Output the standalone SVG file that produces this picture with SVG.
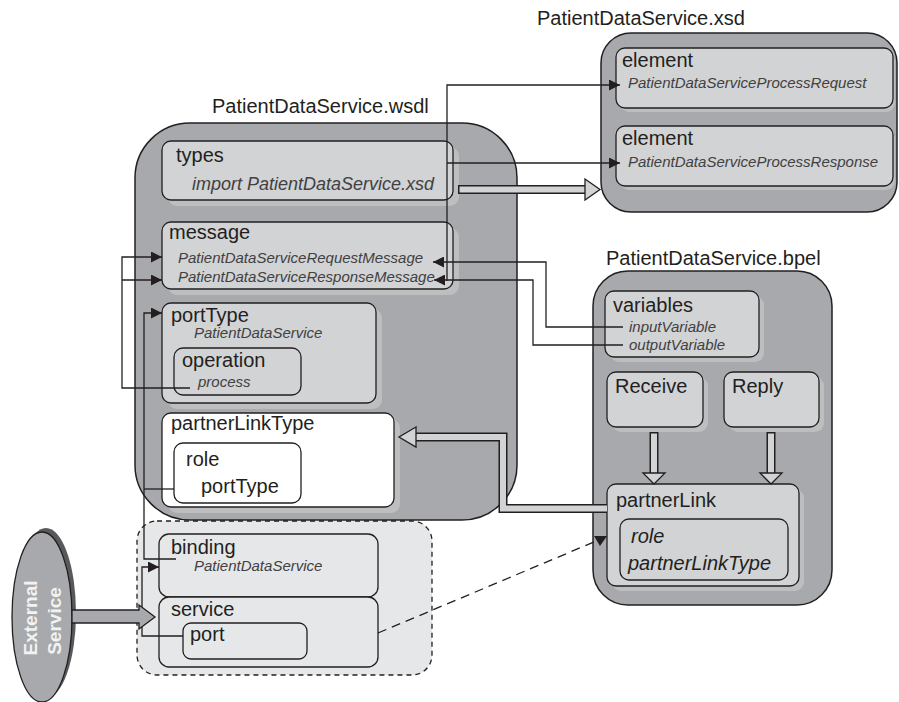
<svg xmlns="http://www.w3.org/2000/svg" width="899" height="702" viewBox="0 0 899 702">
<defs>
<marker id="ah" markerUnits="userSpaceOnUse" markerWidth="11" markerHeight="11" refX="10" refY="5" orient="auto" viewBox="0 0 10 10">
<path d="M0,0 L10,5 L0,10 z" fill="#231f20"/>
</marker>
</defs>
<style>
.cont{fill:#a7a9ac;stroke:#231f20;stroke-width:1.5}
.box{fill:#d1d3d4;stroke:#231f20;stroke-width:1.3}
.wbox{fill:#ffffff;stroke:#231f20;stroke-width:1.3}
.lbox{fill:#e6e7e8;stroke:#231f20;stroke-width:1.3}
.sh{fill:#bcbec0}
.t{font-family:"Liberation Sans",Arial,sans-serif;font-size:20px;fill:#231f20}
.i{font-style:italic;font-size:15px;fill:#414042}
.ln{fill:none;stroke:#231f20;stroke-width:1.3}
.hol-o{fill:none;stroke:#231f20;stroke-width:9;stroke-linejoin:miter}
.hol-i{fill:none;stroke:#d1d3d4;stroke-width:6;stroke-linejoin:miter}
.hh{fill:#d1d3d4;stroke:#231f20;stroke-width:1.3;stroke-linejoin:miter}
</style>

<rect width="899" height="702" fill="#ffffff"/>

<g id="xsd">
<text class="t" x="537" y="25">PatientDataService.xsd</text>
<rect class="cont" x="601" y="33" width="296" height="179" rx="30"/>
<g id="xsd-element1">
<rect class="sh" x="620" y="52" width="275" height="60" rx="9"/>
<rect class="box" x="616" y="48" width="277" height="60" rx="9"/>
<text class="t" x="622" y="67">element</text>
<text class="t i" x="628" y="88">PatientDataServiceProcessRequest</text>
</g>
<g id="xsd-element2">
<rect class="sh" x="620" y="130" width="275" height="60" rx="9"/>
<rect class="box" x="616" y="126" width="277" height="60" rx="9"/>
<text class="t" x="622" y="145">element</text>
<text class="t i" x="628" y="167">PatientDataServiceProcessResponse</text>
</g>
</g>

<g id="wsdl">
<text class="t" x="212" y="113">PatientDataService.wsdl</text>
<rect class="cont" x="135" y="123" width="382" height="397" rx="55"/>
<g id="types">
<rect class="sh" x="168" y="147" width="291" height="59" rx="9"/>
<rect class="box" x="162" y="141" width="291" height="59" rx="9"/>
<text class="t" x="176" y="162">types</text>
<text class="t i" x="192" y="190" style="font-size:18px">import PatientDataService.xsd</text>
</g>
<g id="message">
<rect class="sh" x="168" y="228" width="291" height="67" rx="9"/>
<rect class="box" x="162" y="222" width="291" height="67" rx="9"/>
<text class="t" x="169" y="239">message</text>
<text class="t i" x="178" y="263">PatientDataServiceRequestMessage</text>
<text class="t i" x="178" y="282">PatientDataServiceResponseMessage</text>
</g>
<g id="portType">
<rect class="sh" x="168" y="309" width="214" height="100" rx="9"/>
<rect class="box" x="162" y="303" width="214" height="100" rx="9"/>
<text class="t" x="171" y="322">portType</text>
<text class="t i" x="194" y="338">PatientDataService</text>
<g id="operation">
<rect class="box" x="174" y="348" width="127" height="47" rx="9"/>
<text class="t" x="182" y="367">operation</text>
<text class="t i" x="198" y="387">process</text>
</g>
</g>
<g id="partnerLinkType">
<rect class="sh" x="168" y="419" width="232" height="94" rx="9"/>
<rect class="wbox" x="162" y="413" width="232" height="94" rx="9"/>
<text class="t" x="171" y="430">partnerLinkType</text>
<g id="plt-role">
<rect class="wbox" x="174" y="443" width="127" height="60" rx="9"/>
<text class="t" x="186" y="466">role</text>
<text class="t" x="201" y="493">portType</text>
</g>
</g>
</g>

<g id="bpel">
<text class="t" x="606" y="265">PatientDataService.bpel</text>
<rect class="cont" x="593" y="271" width="239" height="334" rx="35"/>
<g id="variables">
<rect class="sh" x="610" y="296" width="154" height="66" rx="9"/>
<rect class="box" x="605" y="291" width="154" height="66" rx="9"/>
<text class="t" x="613" y="312">variables</text>
<text class="t i" x="629" y="332">inputVariable</text>
<text class="t i" x="629" y="350">outputVariable</text>
</g>
<g id="receive">
<rect class="sh" x="612" y="377" width="96" height="55" rx="9"/>
<rect class="box" x="607" y="372" width="96" height="55" rx="9"/>
<text class="t" x="615" y="393">Receive</text>
</g>
<g id="reply">
<rect class="sh" x="729" y="377" width="95" height="55" rx="9"/>
<rect class="box" x="724" y="372" width="95" height="55" rx="9"/>
<text class="t" x="732" y="393">Reply</text>
</g>
<g id="partnerLink">
<rect class="sh" x="612" y="489" width="192" height="102" rx="9"/>
<rect class="box" x="607" y="484" width="192" height="102" rx="9"/>
<text class="t" x="616" y="507">partnerLink</text>
<rect class="box" x="620" y="519" width="168" height="61" rx="9"/>
<text class="t" x="631" y="543" style="font-style:italic">role</text>
<text class="t" x="628" y="570" style="font-style:italic">partnerLinkType</text>
</g>
</g>

<g id="deploy">
<rect class="lbox" x="137" y="521" width="295" height="154" rx="20" style="stroke-dasharray:5,4"/>
<g id="binding">
<rect class="lbox" x="159" y="534" width="219" height="63" rx="10"/>
<text class="t" x="171" y="554">binding</text>
<text class="t i" x="194" y="571">PatientDataService</text>
</g>
<g id="service">
<rect class="lbox" x="159" y="597" width="219" height="70" rx="10"/>
<text class="t" x="171" y="616">service</text>
<g id="port">
<rect class="lbox" x="183" y="623" width="124" height="36" rx="8"/>
<text class="t" x="190" y="641">port</text>
</g>
</g>
</g>

<g id="external">
<ellipse cx="46" cy="613" rx="30" ry="85" fill="#58595b"/>
<ellipse cx="42" cy="617" rx="30" ry="85" fill="#a7a9ac" stroke="#231f20" stroke-width="1.3"/>
<text transform="translate(37,618) rotate(-90)" x="0" y="0" text-anchor="middle" style="font-family:'Liberation Sans',Arial,sans-serif;font-size:19px;font-weight:bold;fill:#f1f2f2">External</text>
<text transform="translate(61,621) rotate(-90)" x="0" y="0" text-anchor="middle" style="font-family:'Liberation Sans',Arial,sans-serif;font-size:19px;font-weight:bold;fill:#f1f2f2">Service</text>
</g>

<g id="connectors">
<path class="ln" d="M447,281 V85 H620" marker-end="url(#ah)"/>
<path class="ln" d="M447,163 H620" marker-end="url(#ah)"/>
<path class="ln" d="M623,327 H546 V262 H433" marker-end="url(#ah)"/>
<path class="ln" d="M623,345 H533 V280 H434" marker-end="url(#ah)"/>
<path class="ln" d="M190,388 H122 V257 H162" marker-end="url(#ah)"/>
<path class="ln" d="M122,280 H162" marker-end="url(#ah)"/>
<path class="ln" d="M176,559 H144 V313 H162" marker-end="url(#ah)"/>
<path class="ln" d="M174,489 H144"/>
<path class="ln" d="M183,636 H142 V567 H159" marker-end="url(#ah)"/>
<path class="ln" d="M378,633 L594,542" style="stroke-dasharray:9,6"/>
<path d="M594,536 L607,536 L600,546 z" fill="#231f20"/>
<path class="hol-o" d="M458,189.5 H587"/>
<path class="hol-i" d="M459.5,189.5 H588"/>
<polygon class="hh" points="585,179 600,189.5 585,200"/>
<path class="hol-o" d="M607,508.5 H503 V437 H413"/>
<path class="hol-i" d="M607,508.5 H503 V437 H412"/>
<polygon class="hh" points="416,427 399,437 416,447"/>
<path class="hol-o" d="M654,432 V474"/>
<path class="hol-i" d="M654,433.5 V475"/>
<polygon class="hh" points="643,473 665,473 654,484"/>
<path class="hol-o" d="M771,432 V474"/>
<path class="hol-i" d="M771,433.5 V475"/>
<polygon class="hh" points="760,473 782,473 771,484"/>
<path d="M72,610 H139 V605 L155,617 L139,629 V623 H72 z" fill="#a7a9ac" stroke="#231f20" stroke-width="1.3" stroke-linejoin="miter"/>
</g>
</svg>
